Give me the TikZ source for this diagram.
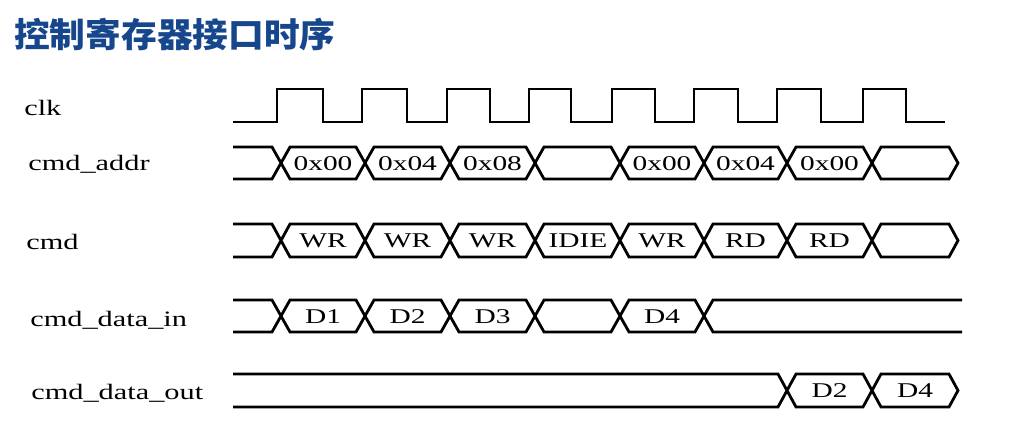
\documentclass[tikz,border=0pt]{standalone}
\usepackage{fontspec}
\setmainfont{Liberation Serif}
\newfontfamily\cjk{Noto Sans CJK SC}
\definecolor{titleblue}{RGB}{22,70,140}
\tikzset{
  wave/.style={line width=2.8pt},
  sig/.style={font=\fontsize{22}{26}\selectfont, xscale=1.38, anchor=base west, inner sep=0pt},
  val/.style={font=\fontsize{21}{25}\selectfont, xscale=1.4, anchor=base, inner sep=0pt},
  heading/.style={font=\fontsize{34}{40}\selectfont\cjk\bfseries, text=titleblue, xscale=1.05, anchor=base west, inner sep=0pt}
}
\begin{document}
\begin{tikzpicture}[x=1pt,y=-1pt]
    \useasboundingbox (0,0) rectangle (1022,425);
    \node[heading] (ttl) at (14,47.5) {控制寄存器接口时序};
    % signal names
    \node[sig] (clk) at (24,116) {clk};
    \node[sig] (addr) at (28,170) {cmd\_addr};
    \node[sig] (cmd) at (26,249) {cmd};
    \node[sig] (din) at (30,326) {cmd\_data\_in};
    \node[sig] (dout) at (31,399) {cmd\_data\_out};
    % clk
    \draw[wave] (233,122) -- (277,122) -- (277,89) -- (323,89) -- (323,122) -- (362,122) -- (362,89) -- (407,89) -- (407,122)
      -- (447,122) -- (447,89) -- (490,89) -- (490,122) -- (529,122) -- (529,89) -- (571,89) -- (571,122)
      -- (612,122) -- (612,89) -- (655,89) -- (655,122) -- (694,122) -- (694,89) -- (738,89) -- (738,122)
      -- (777,122) -- (777,89) -- (821,89) -- (821,122) -- (863,122) -- (863,89) -- (906,89) -- (906,122) -- (945,122);
    % cmd_addr
    \draw[wave] (233,147) -- (272,147) -- (290,179) -- (356,179) -- (374,147) -- (441,147) -- (459,179) -- (526,179)
      -- (544,147) -- (611,147) -- (629,179) -- (695,179) -- (713,147) -- (778,147) -- (796,179) -- (863,179)
      -- (881,147) -- (949,147) -- (958,163) -- (949,179) -- (881,179) -- (863,147) -- (796,147) -- (778,179)
      -- (713,179) -- (695,147) -- (629,147) -- (611,179) -- (544,179) -- (526,147) -- (459,147) -- (441,179)
      -- (374,179) -- (356,147) -- (290,147) -- (272,179) -- (233,179);
    \node[val] (a1) at (323,170.5) {0x00};
    \node[val] (a2) at (407.5,170.5) {0x04};
    \node[val] (a3) at (492.5,170.5) {0x08};
    \node[val] (a5) at (662,170.5) {0x00};
    \node[val] (a6) at (745.5,170.5) {0x04};
    \node[val] (a7) at (829.5,170.5) {0x00};
    % cmd
    \draw[wave] (233,224) -- (272,224) -- (290,257) -- (356,257) -- (374,224) -- (441,224) -- (459,257) -- (526,257)
      -- (544,224) -- (611,224) -- (629,257) -- (695,257) -- (713,224) -- (778,224) -- (796,257) -- (863,257)
      -- (881,224) -- (949,224) -- (958,240.5) -- (949,257) -- (881,257) -- (863,224) -- (796,224) -- (778,257)
      -- (713,257) -- (695,224) -- (629,224) -- (611,257) -- (544,257) -- (526,224) -- (459,224) -- (441,257)
      -- (374,257) -- (356,224) -- (290,224) -- (272,257) -- (233,257);
    \node[val] (c1) at (323,247.5) {WR};
    \node[val] (c2) at (407.5,247.5) {WR};
    \node[val] (c3) at (492.5,247.5) {WR};
    \node[val] (c4) at (578,247.5) {IDIE};
    \node[val] (c5) at (662,247.5) {WR};
    \node[val] (c6) at (745.5,247.5) {RD};
    \node[val] (c7) at (829.5,247.5) {RD};
    % cmd_data_in
    \draw[wave] (233,300) -- (272,300) -- (290,332) -- (356,332) -- (374,300) -- (441,300) -- (459,332) -- (526,332)
      -- (544,300) -- (611,300) -- (629,332) -- (695,332) -- (713,300) -- (962,300);
    \draw[wave] (233,332) -- (272,332) -- (290,300) -- (356,300) -- (374,332) -- (441,332) -- (459,300) -- (526,300)
      -- (544,332) -- (611,332) -- (629,300) -- (695,300) -- (713,332) -- (962,332);
    \node[val] (i1) at (323,323) {D1};
    \node[val] (i2) at (407.5,323) {D2};
    \node[val] (i3) at (492.5,323) {D3};
    \node[val] (i5) at (662,323) {D4};
    % cmd_data_out
    \draw[wave] (233,374) -- (778,374) -- (796,407) -- (863,407) -- (881,374) -- (949,374) -- (958,390.5)
      -- (949,407) -- (881,407) -- (863,374) -- (796,374) -- (778,407) -- (233,407);
    \node[val] (o7) at (829.5,397.5) {D2};
    \node[val] (o8) at (915,397.5) {D4};
  \end{tikzpicture}
\end{document}
